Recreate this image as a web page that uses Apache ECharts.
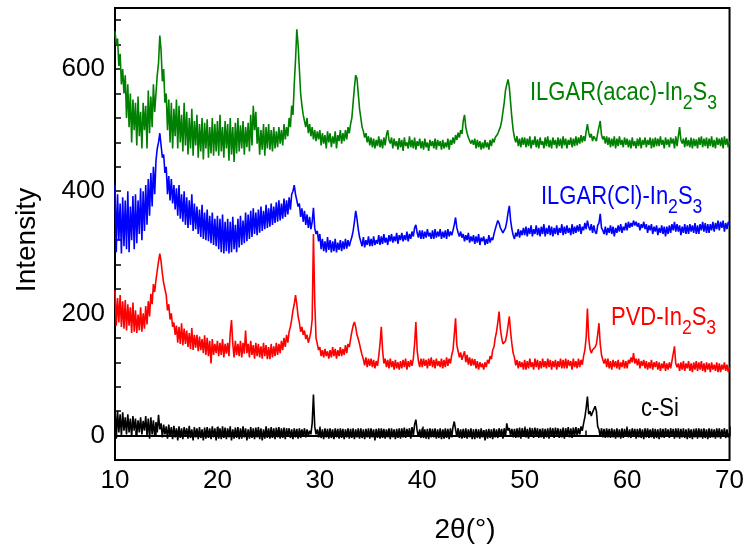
<!DOCTYPE html>
<html>
<head>
<meta charset="utf-8">
<script src="https://cdn.jsdelivr.net/npm/echarts@6/dist/echarts.min.js"></script>
<style>
  html, body { margin: 0; padding: 0; background: #fff; }
  #chart { width: 747px; height: 551px; }
</style>
</head>
<body>
<div id="chart"></div>
<script>
// 2θ sampling grid, 10 .. 70 deg, 0.125 deg step
var twoTheta = [];
for (var i = 0; i <= 480; i++) twoTheta.push(10 + i * 0.125);

// intensities, one line = 1 deg (8 samples)
var acacIntensity = [
  662, 640, 650, 605, 625, 575, 600, 560,
  590, 520, 575, 505, 560, 480, 550, 500,
  545, 475, 555, 490, 530, 470, 545, 500,
  540, 470, 565, 495, 555, 505, 575, 530,
  560, 590, 610, 655, 630, 580, 600, 545,
  560, 500, 550, 480, 545, 470, 535, 490,
  550, 470, 540, 480, 525, 465, 545, 475,
  530, 460, 520, 470, 535, 458, 515, 475,
  525, 455, 510, 465, 520, 452, 512, 470,
  518, 455, 505, 462, 520, 458, 510, 465,
  515, 458, 525, 465, 505, 455, 515, 470,
  510, 450, 520, 460, 505, 448, 512, 462,
  520, 465, 508, 470, 515, 460, 505, 472,
  512, 465, 525, 475, 540, 500, 530, 478,
  505, 460, 500, 468, 510, 458, 505, 470,
  510, 468, 500, 465, 505, 470, 498, 472,
  505, 478, 500, 475, 510, 485, 505, 490,
  520, 505, 540, 525, 575, 615, 665, 640,
  600, 560, 540, 525, 515, 505, 520, 495,
  510, 490, 505, 485, 500, 482, 498, 485,
  500, 475, 495, 478, 492, 470, 498, 480,
  495, 472, 490, 478, 498, 470, 492, 482,
  500, 478, 495, 482, 500, 485, 505, 495,
  510, 520, 545, 570, 590, 585, 560, 535,
  520, 505, 498, 488, 495, 480, 490, 475,
  488, 472, 486, 470, 484, 474, 490, 472,
  485, 470, 488, 475, 492, 500, 484, 478,
  488, 470, 486, 474, 482, 468, 487, 472,
  484, 466, 488, 474, 480, 470, 490, 472,
  484, 470, 488, 468, 482, 474, 486, 470,
  482, 468, 486, 472, 480, 466, 484, 474,
  482, 470, 486, 468, 484, 474, 482, 468,
  484, 470, 480, 472, 486, 468, 484, 476,
  488, 478, 492, 484, 496, 488, 500, 494,
  515, 525, 505, 495, 488, 490, 478, 484,
  476, 486, 470, 484, 472, 482, 468, 480,
  470, 484, 472, 480, 468, 484, 474, 486,
  480, 488, 485, 494, 500, 505, 515, 530,
  545, 565, 575, 583, 570, 545, 520, 500,
  488, 480, 490, 474, 486, 472, 488, 476,
  488, 472, 486, 474, 490, 470, 484, 476,
  490, 472, 485, 470, 488, 476, 482, 470,
  488, 474, 490, 472, 484, 470, 488, 476,
  484, 470, 488, 474, 486, 470, 490, 475,
  486, 470, 484, 476, 488, 472, 486, 474,
  490, 475, 488, 478, 492, 480, 490, 482,
  498, 510, 496, 488, 494, 482, 490, 486,
  482, 495, 505, 515, 492, 485, 490, 478,
  490, 476, 488, 472, 486, 474, 490, 470,
  486, 474, 490, 476, 484, 472, 488, 476,
  486, 472, 484, 470, 488, 474, 482, 470,
  486, 474, 488, 470, 484, 476, 488, 472,
  484, 476, 488, 470, 486, 472, 488, 474,
  486, 474, 490, 476, 484, 470, 488, 476,
  485, 472, 488, 478, 486, 470, 490, 474,
  490, 505, 484, 478, 486, 472, 488, 474,
  484, 472, 488, 470, 486, 474, 485, 470,
  488, 476, 490, 472, 486, 474, 488, 470,
  486, 474, 490, 472, 484, 470, 488, 476,
  486, 474, 488, 470, 490, 476, 486, 472,
  482
];
var clIntensity = [
  410, 300, 395, 320, 380, 298, 390, 310,
  385, 305, 400, 300, 375, 320, 392, 305,
  395, 315, 385, 330, 405, 320, 400, 335,
  410, 345, 420, 360, 430, 375, 440, 395,
  450, 470, 480, 495, 475, 455, 460, 430,
  440, 395, 425, 385, 420, 380, 410, 370,
  405, 360, 410, 355, 395, 350, 400, 345,
  390, 340, 385, 345, 395, 335, 380, 338,
  375, 330, 370, 325, 378, 322, 365, 320,
  370, 318, 360, 315, 365, 312, 355, 310,
  360, 305, 355, 300, 362, 298, 350, 302,
  355, 298, 350, 300, 358, 305, 345, 300,
  355, 308, 360, 312, 352, 315, 365, 318,
  362, 322, 368, 325, 372, 330, 365, 328,
  370, 332, 375, 335, 368, 338, 378, 340,
  372, 342, 380, 345, 375, 348, 382, 350,
  385, 352, 380, 355, 388, 358, 385, 362,
  390, 370, 395, 400, 410, 395, 385, 375,
  380, 358, 372, 350, 368, 345, 362, 340,
  358, 338, 350, 373, 340, 330, 335, 318,
  330, 305, 322, 302, 318, 300, 325, 304,
  320, 300, 318, 302, 322, 300, 316, 304,
  320, 302, 318, 305, 322, 306, 320, 310,
  318, 325, 335, 350, 368, 355, 338, 325,
  322, 310, 325, 308, 320, 312, 326, 310,
  322, 310, 326, 312, 320, 314, 328, 312,
  326, 314, 330, 316, 324, 312, 328, 318,
  330, 316, 326, 318, 332, 314, 328, 320,
  332, 318, 328, 320, 334, 318, 330, 322,
  334, 326, 340, 345, 332, 324, 336, 322,
  336, 322, 334, 324, 338, 326, 332, 322,
  336, 322, 338, 324, 334, 326, 338, 322,
  334, 324, 336, 322, 338, 326, 334, 328,
  336, 345, 357, 340, 332, 326, 334, 324,
  330, 318, 328, 320, 332, 316, 326, 318,
  328, 314, 326, 316, 330, 312, 324, 318,
  326, 312, 322, 314, 328, 316, 324, 320,
  330, 338, 345, 352, 348, 340, 336, 332,
  335, 340, 350, 365, 376, 352, 338, 328,
  322, 332, 326, 338, 324, 336, 328, 340,
  328, 342, 326, 340, 330, 344, 326, 338,
  330, 344, 328, 340, 326, 342, 330, 346,
  326, 340, 330, 344, 328, 342, 326, 340,
  330, 344, 328, 340, 332, 346, 328, 342,
  330, 344, 332, 340, 328, 346, 330, 342,
  332, 344, 334, 346, 330, 342, 336, 348,
  338, 352, 342, 336, 346, 332, 344, 334,
  330, 344, 348, 363, 340, 336, 330, 342,
  328, 340, 332, 344, 330, 342, 326, 340,
  332, 344, 334, 346, 332, 342, 336, 348,
  336, 350, 340, 348, 342, 352, 344, 350,
  342, 348, 336, 346, 340, 350, 338, 346,
  332, 344, 336, 346, 330, 342, 334, 344,
  328, 340, 332, 344, 330, 342, 326, 342,
  330, 344, 332, 346, 336, 350, 334, 346,
  334, 344, 328, 342, 332, 346, 330, 344,
  330, 346, 334, 344, 332, 348, 330, 344,
  330, 346, 336, 350, 334, 348, 332, 346,
  332, 346, 336, 350, 334, 348, 338, 352,
  336, 350, 340, 352, 334, 348, 338, 350,
  345
];
var pvdIntensity = [
  238, 180, 225, 185, 230, 178, 220, 175,
  222, 172, 215, 180, 210, 168, 218, 170,
  205, 168, 198, 172, 210, 170, 200, 175,
  212, 182, 220, 195, 232, 215, 248, 235,
  255, 270, 285, 298, 285, 265, 250, 240,
  230, 205, 215, 190, 200, 178, 185, 165,
  180, 152, 178, 150, 184, 148, 175, 150,
  172, 145, 168, 142, 176, 140, 165, 144,
  165, 138, 162, 140, 158, 135, 164, 132,
  160, 130, 155, 118, 158, 132, 150, 135,
  155, 130, 152, 132, 158, 128, 150, 134,
  152, 130, 168, 189, 150, 128, 155, 132,
  150, 130, 155, 128, 152, 134, 172, 135,
  150, 128, 155, 132, 148, 126, 152, 130,
  150, 128, 146, 126, 152, 130, 148, 125,
  145, 125, 150, 128, 146, 130, 152, 132,
  150, 135, 155, 140, 160, 145, 165, 152,
  170, 178, 190, 205, 215, 230, 215, 195,
  185, 170, 178, 165, 172, 158, 165, 152,
  160, 170, 190, 330, 220, 160, 150, 140,
  145, 130, 140, 128, 142, 130, 138, 126,
  140, 128, 145, 130, 142, 126, 140, 130,
  145, 130, 142, 132, 148, 135, 150, 145,
  158, 170, 180, 186, 178, 165, 158, 150,
  140, 132, 125, 115, 128, 112, 126, 114,
  126, 112, 124, 110, 122, 114, 130, 150,
  178, 140, 118, 126, 112, 124, 110, 126,
  112, 122, 108, 124, 110, 120, 108, 122,
  110, 124, 112, 126, 108, 122, 112, 124,
  114, 126, 150, 186, 140, 122, 112, 126,
  112, 126, 114, 124, 110, 126, 114, 128,
  112, 124, 110, 126, 114, 122, 112, 126,
  110, 124, 112, 128, 114, 126, 118, 132,
  140, 165, 192, 148, 138, 128, 136, 124,
  125, 138, 120, 132, 116, 128, 114, 126,
  115, 125, 110, 122, 108, 120, 112, 118,
  108, 120, 112, 124, 118, 130, 125, 140,
  145, 160, 170, 185, 203, 175, 160, 150,
  148, 155, 165, 180, 195, 170, 150, 135,
  128, 115, 124, 110, 122, 112, 120, 108,
  124, 108, 122, 110, 126, 112, 120, 108,
  126, 112, 124, 108, 122, 110, 126, 112,
  122, 110, 126, 112, 124, 108, 122, 112,
  124, 108, 122, 112, 126, 110, 124, 110,
  126, 110, 124, 114, 122, 108, 126, 112,
  122, 110, 126, 112, 124, 116, 130, 140,
  160, 208, 160, 142, 135, 140, 138, 145,
  150, 165, 184, 150, 132, 124, 118, 126,
  112, 126, 110, 122, 108, 124, 112, 122,
  110, 124, 108, 120, 112, 124, 110, 122,
  110, 124, 118, 128, 120, 135, 118, 126,
  115, 126, 110, 122, 114, 124, 110, 122,
  108, 120, 110, 124, 108, 120, 112, 122,
  108, 120, 106, 118, 110, 122, 106, 118,
  108, 120, 110, 122, 125, 146, 118, 112,
  118, 106, 120, 108, 122, 106, 118, 110,
  122, 106, 118, 104, 120, 108, 122, 106,
  120, 108, 122, 106, 118, 104, 120, 108,
  118, 104, 120, 108, 116, 106, 120, 104,
  118, 104, 116, 108, 120, 106, 116, 104,
  112
];
var siIntensity = [
  48, -5, 40, 5, 35, 0, 38, 8,
  30, 2, 35, 5, 28, -2, 32, 8,
  28, 0, 25, 5, 30, 2, 24, 8,
  32, 0, 28, -5, 30, 2, 25, -2,
  22, 5, 34, 10, 20, -3, 18, 2,
  15, -5, 18, -2, 14, -6, 16, -3,
  12, -8, 15, -4, 12, -6, 14, -2,
  12, -5, 16, -4, 10, -8, 14, -3,
  12, -6, 14, -4, 10, -8, 13, -5,
  14, -4, 12, -6, 15, -3, 12, -8,
  14, -5, 12, -6, 15, -4, 13, -6,
  12, -3, 15, -8, 10, -5, 13, -4,
  14, -6, 12, -5, 15, -3, 12, -8,
  10, -5, 14, -4, 12, -6, 13, -3,
  14, -6, 12, -8, 10, -5, 15, -4,
  12, -5, 14, -4, 12, -6, 13, -3,
  14, -5, 12, -4, 13, -6, 12, -2,
  12, -4, 10, -6, 12, -3, 11, -5,
  12, -4, 10, -2, 12, -3, 10, -1,
  8, 2, 20, 67, 15, 2, 10, -3,
  12, -4, 10, -6, 12, -3, 11, -5,
  12, -4, 10, -6, 12, -3, 11, -5,
  12, -4, 11, -6, 10, -3, 12, -5,
  11, -4, 12, -6, 10, -3, 12, -5,
  12, -4, 10, -6, 11, -3, 12, -5,
  12, -3, 10, -8, 11, -4, 12, -5,
  12, -4, 11, -5, 10, -3, 12, -6,
  12, -3, 10, -6, 11, -4, 12, -5,
  12, -3, 13, -4, 11, -2, 12, -5,
  14, 0, 18, 26, 8, -2, 10, -4,
  12, -4, 10, -5, 11, -6, 12, -3,
  11, -3, 12, -5, 10, -4, 12, -6,
  10, -5, 12, -4, 11, -6, 12, -3,
  14, 23, 10, -2, 12, -4, 10, -5,
  11, -4, 12, -5, 10, -3, 12, -6,
  10, -6, 11, -4, 10, -5, 12, -3,
  9, -8, 10, -5, 11, -4, 10, -6,
  12, -3, 10, -4, 12, -2, 11, -5,
  12, -2, 20, 8, 12, 0, 11, -3,
  11, -4, 12, -3, 13, -5, 12, -2,
  12, -3, 11, -5, 13, -2, 12, -4,
  13, -2, 12, -4, 11, -3, 12, -5,
  11, -3, 12, -5, 13, -2, 12, -4,
  13, -2, 12, -4, 11, -3, 13, -5,
  12, -2, 14, -3, 12, -4, 13, -1,
  14, 0, 12, 2, 15, 8, 20, 30,
  45, 64, 35, 40, 32, 38, 35, 48,
  40, 15, 10, -2, 12, -3, 11, -4,
  12, -3, 11, -4, 12, -3, 10, -5,
  12, -3, 10, -5, 12, -4, 11, -2,
  12, -3, 10, -4, 12, -2, 11, -5,
  11, -3, 12, -4, 10, -6, 12, -3,
  12, -4, 10, -3, 12, -5, 11, -4,
  10, -6, 12, -3, 11, -4, 12, -2,
  10, -4, 12, -2, 11, -5, 12, -3,
  12, -5, 11, -3, 12, -4, 10, -6,
  12, -4, 10, -6, 11, -3, 12, -5,
  12, -3, 11, -5, 12, -4, 10, -6,
  12, -4, 11, -3, 10, -5, 12, -3,
  12, -5, 10, -2, 12, -4, 10, -3,
  4
];
var yTickLabels = [0, 200, 400, 600];

var FONT = "'Liberation Sans', Arial, sans-serif";

function pairs(values) {
  return twoTheta.map(function (t, i) { return [t, values[i]]; });
}

function curve(name, values, color) {
  return {
    name: name,
    type: "line",
    data: pairs(values),
    showSymbol: false,
    lineStyle: { color: color, width: 1.6 },
    itemStyle: { color: color },
    emphasis: { disabled: true },
  };
}

// sample label with sub-scripted 2 and 3
function sampleLabel(x, y, parts, color) {
  var rich = {
    m: { fontSize: 25, fontFamily: FONT, fill: color, lineHeight: 32, verticalAlign: "top" },
    s: { fontSize: 20, fontFamily: FONT, fill: color, lineHeight: 32, verticalAlign: "bottom" },
  };
  return {
    type: "text",
    x: x,
    y: y,
    scaleX: 0.88,
    style: { text: parts, rich: rich, fill: color, verticalAlign: "top", align: "left" },
  };
}

var chart = echarts.init(document.getElementById("chart"));
var option = {
  animation: false,
  backgroundColor: "#fff",
  grid: {
    left: 115, right: 17, top: 8, bottom: 91,
    show: true, borderColor: "#000", borderWidth: 2,
  },
  xAxis: {
    type: "value",
    min: 10, max: 70, interval: 10,
    axisLine: { lineStyle: { color: "#000", width: 2 } },
    axisTick: { inside: true, length: 9, lineStyle: { color: "#000", width: 1.5 } },
    minorTick: { show: true, splitNumber: 5, length: 5, lineStyle: { color: "#000", width: 1.5 } },
    axisLabel: { color: "#000", fontSize: 26, fontFamily: FONT, margin: 8 },
    splitLine: { show: false },
  },
  yAxis: {
    type: "value",
    min: -40, max: 700, interval: 40,
    axisLine: { show: true, lineStyle: { color: "#000", width: 2 } },
    axisTick: { inside: true, length: 6, lineStyle: { color: "#000", width: 1.5 } },
    axisLabel: {
      color: "#000", fontSize: 26, fontFamily: FONT, margin: 10,
      formatter: function (v) { return yTickLabels.indexOf(v) >= 0 ? String(v) : ""; },
    },
    splitLine: { show: false },
  },
  series: [
    curve("ILGAR(acac)-In2S3", acacIntensity, "#008000"),
    curve("ILGAR(Cl)-In2S3", clIntensity, "#0000ff"),
    curve("PVD-In2S3", pvdIntensity, "#ff0000"),
    curve("c-Si", siIntensity, "#000000"),
  ],
  graphic: [
    sampleLabel(530, 81, "{m|ILGAR(acac)-In}{s|2}{m|S}{s|3}", "#008000"),
    sampleLabel(541, 185, "{m|ILGAR(Cl)-In}{s|2}{m|S}{s|3}", "#0000ff"),
    sampleLabel(611, 306, "{m|PVD-In}{s|2}{m|S}{s|3}", "#ff0000"),
    sampleLabel(641, 397, "{m|c-Si}", "#000000"),
    {
      type: "text",
      x: 27, y: 240, rotation: Math.PI / 2,
      style: { text: "Intensity", fontSize: 28, fontFamily: FONT, fill: "#000", align: "center", verticalAlign: "middle" },
    },
    {
      type: "text",
      x: 465, y: 530,
      style: { text: "2θ(°)", fontSize: 28, fontFamily: FONT, fill: "#000", align: "center", verticalAlign: "middle" },
    },
  ],
};
chart.setOption(option);
</script>
</body>
</html>
